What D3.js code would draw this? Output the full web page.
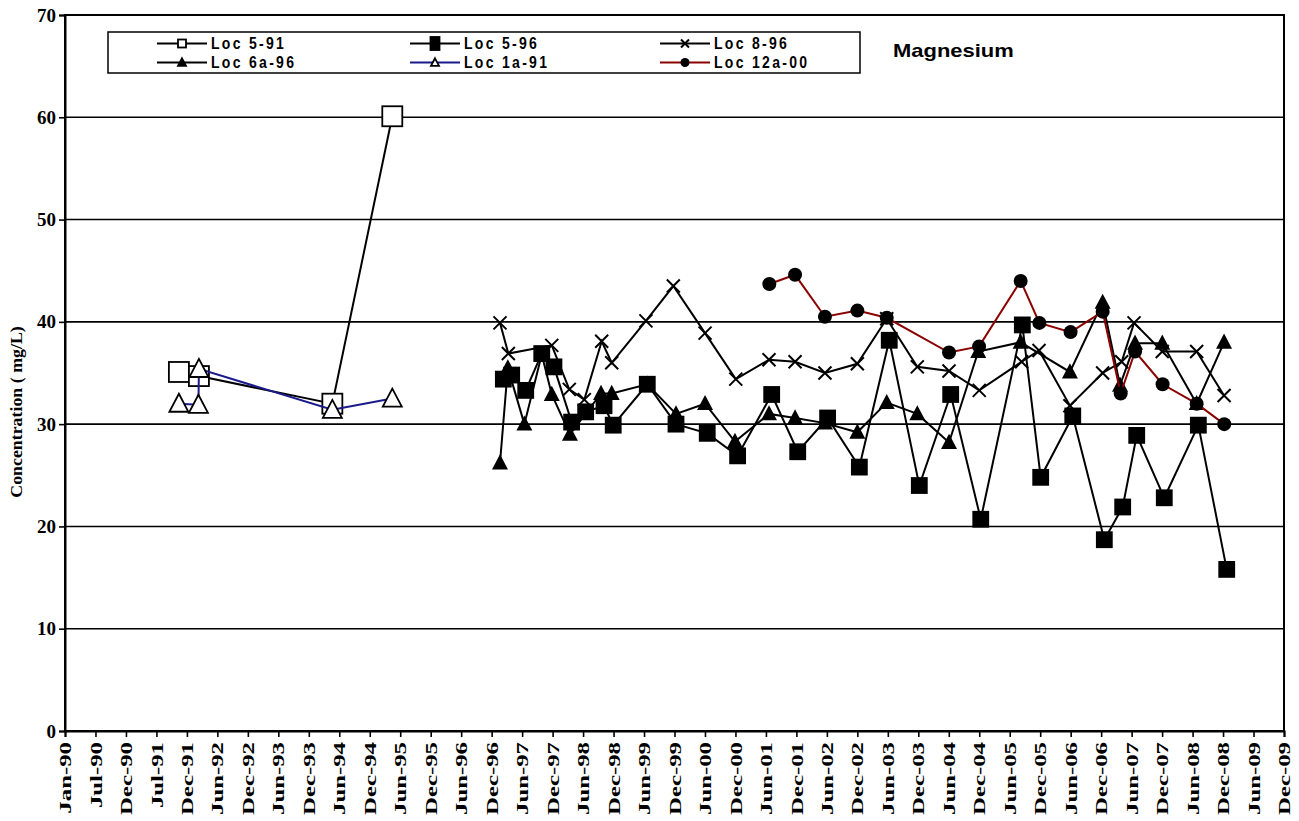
<!DOCTYPE html>
<html>
<head>
<meta charset="utf-8">
<script src="https://cdn.jsdelivr.net/npm/d3@7"></script>
<style>
  html, body { margin: 0; padding: 0; background: #fff; }
  svg { display: block; }
</style>
</head>
<body>
<svg id="chart" width="1299" height="821"></svg>
<script>
// Magnesium concentrations (mg/L) by sampling location and date
const tickLabels = [
  "Jan-90","Jul-90","Dec-90","Jul-91","Dec-91","Jun-92","Dec-92","Jun-93","Dec-93","Jun-94",
  "Dec-94","Jun-95","Dec-95","Jun-96","Dec-96","Jun-97","Dec-97","Jun-98","Dec-98","Jun-99",
  "Dec-99","Jun-00","Dec-00","Jun-01","Dec-01","Jun-02","Dec-02","Jun-03","Dec-03","Jun-04",
  "Dec-04","Jun-05","Dec-05","Jun-06","Dec-06","Jun-07","Dec-07","Jun-08","Dec-08","Jun-09","Dec-09"
];
const yTicks = [0, 10, 20, 30, 40, 50, 60, 70];

const loc5_91 = [
  ["1991-11-14", 35.1], ["1992-03-13", 34.7], ["1994-05-21", 32.0], ["1995-05-15", 60.1]
];
const loc1a_91 = [
  ["1991-11-14", 32.0], ["1992-03-10", 31.9], ["1992-03-13", 35.4], ["1994-05-21", 31.4], ["1995-05-15", 32.5]
];
const loc5_96 = [
  ["1997-03-10", 34.4], ["1997-04-29", 34.8], ["1997-07-22", 33.3], ["1997-10-26", 36.9],
  ["1998-01-07", 35.6], ["1998-04-23", 30.2], ["1998-07-16", 31.2], ["1998-11-03", 31.8],
  ["1998-12-28", 29.9], ["1999-07-20", 33.9], ["2000-01-08", 30.0], ["2000-07-13", 29.1],
  ["2001-01-11", 26.9], ["2001-08-03", 32.9], ["2002-01-06", 27.3], ["2002-07-04", 30.6],
  ["2003-01-10", 25.8], ["2003-07-08", 38.2], ["2004-01-04", 24.0], ["2004-07-10", 32.9],
  ["2005-01-06", 20.7], ["2005-09-12", 39.7], ["2005-12-31", 24.8], ["2006-07-11", 30.8],
  ["2007-01-16", 18.7], ["2007-05-06", 21.9], ["2007-07-29", 28.9], ["2008-01-10", 22.8],
  ["2008-08-01", 29.9], ["2009-01-18", 15.8]
];
const loc8_96 = [
  ["1997-02-18", 39.9], ["1997-04-09", 36.9], ["1997-12-25", 37.7], ["1998-04-09", 33.4],
  ["1998-07-08", 32.4], ["1998-10-20", 38.1], ["1998-12-19", 36.0], ["1999-07-12", 40.1],
  ["1999-12-23", 43.5], ["2000-06-30", 38.9], ["2000-12-31", 34.4], ["2001-07-18", 36.3],
  ["2001-12-21", 36.1], ["2002-06-18", 35.0], ["2002-12-29", 35.9], ["2003-06-23", 40.3],
  ["2003-12-23", 35.6], ["2004-06-30", 35.2], ["2004-12-28", 33.3], ["2005-09-08", 36.1],
  ["2005-12-21", 37.2], ["2006-06-24", 31.8], ["2007-01-06", 35.0], ["2007-04-30", 36.1],
  ["2007-07-13", 39.9], ["2007-12-29", 37.1], ["2008-07-22", 37.1], ["2009-01-02", 32.8]
];
const loc6a_96 = [
  ["1997-02-18", 26.2], ["1997-04-06", 35.5], ["1997-07-14", 30.0], ["1997-10-26", 36.8],
  ["1997-12-25", 32.9], ["1998-04-13", 29.0], ["1998-10-16", 33.0], ["1998-12-19", 33.0],
  ["1999-07-20", 33.9], ["2000-01-08", 31.0], ["2000-06-30", 32.0], ["2000-12-26", 28.3],
  ["2001-07-18", 31.0], ["2001-12-21", 30.6], ["2002-06-18", 30.1], ["2002-12-29", 29.2],
  ["2003-06-23", 32.1], ["2003-12-23", 31.0], ["2004-06-30", 28.2], ["2004-12-22", 37.1],
  ["2005-09-02", 38.0], ["2006-06-24", 35.1], ["2007-01-06", 41.9], ["2007-04-20", 33.8],
  ["2007-07-19", 37.9], ["2007-12-29", 37.9], ["2008-07-22", 32.0], ["2009-01-02", 38.0]
];
const loc12a_00 = [
  ["2001-07-20", 43.7], ["2001-12-21", 44.6], ["2002-06-18", 40.5], ["2002-12-29", 41.1],
  ["2003-06-23", 40.4], ["2004-06-30", 37.0], ["2004-12-27", 37.6], ["2005-09-02", 44.0],
  ["2005-12-23", 39.9], ["2006-06-28", 39.0], ["2007-01-06", 41.0], ["2007-04-24", 33.0],
  ["2007-07-19", 37.1], ["2007-12-31", 33.9], ["2008-07-22", 32.0], ["2009-01-03", 30.0]
];

const parse = d3.utcParse("%Y-%m-%d");
const DAY = 86400000;
const startDate = parse("1990-01-01");
const tickStepDays = 182.5;
const tickDates = tickLabels.map((_, i) => new Date(+startDate + i * tickStepDays * DAY));

const svg = d3.select("#chart");
const plot = { left: 65, right: 1284, top: 15, bottom: 731 };

const x = d3.scaleUtc()
  .domain([tickDates[0], tickDates[tickDates.length - 1]])
  .range([plot.left, plot.right]);
const y = d3.scaleLinear().domain([0, 70]).range([plot.bottom, plot.top]);

const serif = "'Liberation Serif', 'Times New Roman', serif";
const sans = "'Liberation Sans', Arial, sans-serif";

// horizontal gridlines
svg.append("g").selectAll("line").data(yTicks.slice(1, -1)).join("line")
  .attr("x1", plot.left).attr("x2", plot.right)
  .attr("y1", d => y(d)).attr("y2", d => y(d))
  .attr("stroke", "#000").attr("stroke-width", 1.6);

// plot frame
svg.append("rect")
  .attr("x", plot.left).attr("y", plot.top)
  .attr("width", plot.right - plot.left).attr("height", plot.bottom - plot.top)
  .attr("fill", "none").attr("stroke", "#000").attr("stroke-width", 2);

// y axis
const yAxis = svg.append("g").attr("transform", `translate(${plot.left},0)`)
  .call(d3.axisLeft(y).tickValues(yTicks).tickSize(6).tickPadding(3).tickFormat(d3.format("d")));
yAxis.select(".domain").attr("stroke", "#000").attr("stroke-width", 2);
yAxis.selectAll(".tick line").attr("stroke", "#000").attr("stroke-width", 1.6);
yAxis.selectAll(".tick text")
  .attr("font-family", serif).attr("font-weight", "bold").attr("font-size", 19).attr("fill", "#000");

// x axis
const xAxis = svg.append("g").attr("transform", `translate(0,${plot.bottom})`)
  .call(d3.axisBottom(x).tickValues(tickDates).tickSize(6).tickFormat((d, i) => tickLabels[i]));
xAxis.select(".domain").attr("stroke", "#000").attr("stroke-width", 2);
xAxis.selectAll(".tick line").attr("stroke", "#000").attr("stroke-width", 1.6);
xAxis.selectAll(".tick text")
  .attr("font-family", serif).attr("font-weight", "bold").attr("font-size", 16).attr("fill", "#000")
  .attr("text-anchor", "end")
  .attr("x", 0).attr("y", 0).attr("dy", "0.35em")
  .attr("transform", "translate(0,11) rotate(-90) scale(1.55,1)");

// y axis title
svg.append("text")
  .attr("transform", "translate(22,412) rotate(-90) scale(1.05,1)")
  .attr("text-anchor", "middle")
  .attr("font-family", serif).attr("font-weight", "bold").attr("font-size", 17)
  .text("Concentration ( mg/L)");

// marker shapes
function marker(g, shape, w, filled, color, hScale = 1) {
  const h = w / 2;
  if (shape === "square") {
    g.append("rect").attr("x", -h).attr("y", -h * hScale).attr("width", w).attr("height", w * hScale)
      .attr("fill", filled ? color : "#fff").attr("stroke", color).attr("stroke-width", 1.8);
  } else if (shape === "triangle") {
    g.append("path").attr("d", `M0,${-h * 1.05}L${h},${h * 0.85}L${-h},${h * 0.85}Z`)
      .attr("fill", filled ? color : "#fff").attr("stroke", color).attr("stroke-width", 1.8)
      .attr("stroke-linejoin", "miter");
  } else if (shape === "circle") {
    g.append("circle").attr("r", h).attr("fill", color);
  } else if (shape === "x") {
    g.append("path").attr("d", `M${-h},${-h}L${h},${h}M${h},${-h}L${-h},${h}`)
      .attr("stroke", color).attr("stroke-width", 2);
  }
}

const series = [
  { name: "Loc 5-91", data: loc5_91, line: "#000", shape: "square", filled: false, size: 20 },
  { name: "Loc 1a-91", data: loc1a_91, line: "#1a1a8c", shape: "triangle", filled: false, size: 19 },
  { name: "Loc 8-96", data: loc8_96, line: "#000", shape: "x", filled: false, size: 13 },
  { name: "Loc 6a-96", data: loc6a_96, line: "#000", shape: "triangle", filled: true, size: 13 },
  { name: "Loc 12a-00", data: loc12a_00, line: "#8b0000", shape: "circle", filled: true, size: 14 },
  { name: "Loc 5-96", data: loc5_96, line: "#000", shape: "square", filled: true, size: 15 }
];

const lineGen = d3.line().x(d => x(parse(d[0]))).y(d => y(d[1]));

series.forEach(s => {
  const g = svg.append("g");
  g.append("path").attr("d", lineGen(s.data))
    .attr("fill", "none").attr("stroke", s.line).attr("stroke-width", 2);
  g.selectAll("g.m").data(s.data).join("g").attr("class", "m")
    .attr("transform", d => `translate(${x(parse(d[0]))},${y(d[1])})`)
    .each(function () { marker(d3.select(this), s.shape, s.size, s.filled, "#000"); });
});

// legend
const legend = svg.append("g");
legend.append("rect").attr("x", 108).attr("y", 32).attr("width", 752).attr("height", 41)
  .attr("fill", "#fff").attr("stroke", "#000").attr("stroke-width", 1.5);
const legendItems = [
  { name: "Loc 5-91", line: "#000", shape: "square", filled: false, size: 8, hs: 1, col: 0, row: 0 },
  { name: "Loc 5-96", line: "#000", shape: "square", filled: true, size: 9, hs: 1.45, col: 1, row: 0 },
  { name: "Loc 8-96", line: "#000", shape: "x", filled: false, size: 8, hs: 1, col: 2, row: 0 },
  { name: "Loc 6a-96", line: "#000", shape: "triangle", filled: true, size: 8, hs: 1, col: 0, row: 1 },
  { name: "Loc 1a-91", line: "#1a1a8c", shape: "triangle", filled: false, size: 8, hs: 1, col: 1, row: 1 },
  { name: "Loc 12a-00", line: "#8b0000", shape: "circle", filled: true, size: 9, hs: 1, col: 2, row: 1 }
];
const colX = [157, 410, 660];
const rowY = [43.5, 62.5];
legendItems.forEach(it => {
  const gx = colX[it.col], gy = rowY[it.row];
  const g = legend.append("g");
  g.append("line").attr("x1", gx).attr("x2", gx + 50).attr("y1", gy).attr("y2", gy)
    .attr("stroke", it.line).attr("stroke-width", 2);
  const m = g.append("g").attr("transform", `translate(${gx + 25},${gy})`);
  marker(m, it.shape, it.size, it.filled, "#000", it.hs);
  g.append("text").attr("transform", `translate(${gx + 54},${gy}) scale(1,1.12)`)
    .attr("dy", "0.36em")
    .attr("font-family", sans).attr("font-weight", "bold").attr("font-size", 14)
    .attr("letter-spacing", 2.3).text(it.name);
});

// chart title
svg.append("text").attr("transform", "translate(893,57) scale(1.22,1)")
  .attr("font-family", sans).attr("font-weight", "bold").attr("font-size", 18)
  .text("Magnesium");
</script>
</body>
</html>
